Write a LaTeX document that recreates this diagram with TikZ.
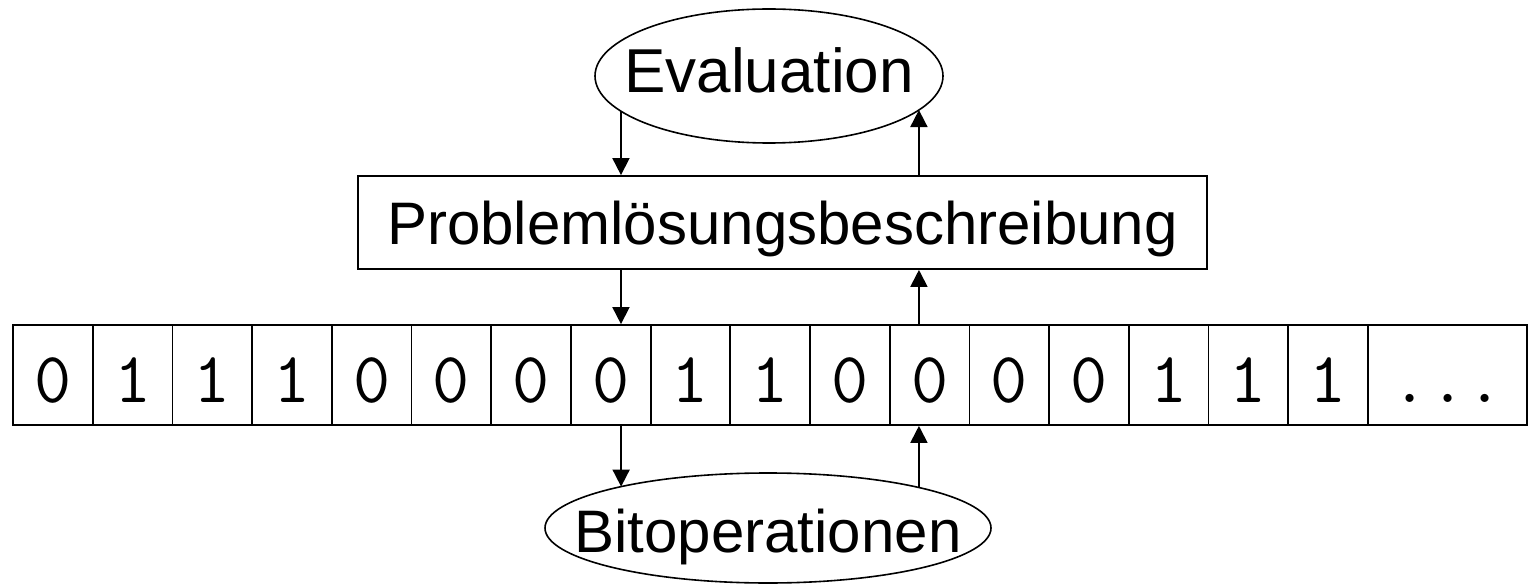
\documentclass[tikz,border=0pt]{standalone}
\usepackage{fontspec}
\setmainfont{Liberation Sans}
\usetikzlibrary{arrows.meta}

\begin{document}
\begin{tikzpicture}[
  x=1pt, y=-1pt,
  bit/.style={rectangle, draw, line width=1.8pt, inner sep=0pt,
    minimum width=79.7pt, minimum height=100pt,
    font=\ttfamily\fontsize{72pt}{76pt}\selectfont, text height=54pt, text depth=0pt},
  phase/.style={inner sep=0pt, font=\fontsize{60pt}{66pt}\selectfont, text depth=0pt},
  rim/.style={line width=1.6pt},
  coding/.style={rectangle, draw, line width=1.8pt, inner sep=0pt,
    minimum width=849pt, minimum height=93pt,
    font=\fontsize{60pt}{66pt}\selectfont, text height=45pt, text depth=0pt},
  flow/.style={-{Triangle[length=17pt,width=17pt]}, line width=1.8pt}
]
\useasboundingbox (0,0) rectangle (1528,585);

% the chromosome as a row of bit cells
\foreach \b [count=\i from 0] in {0,1,1,1,0,0,0,0,1,1,0,0,0,0,1,1,1}
  \node [bit] (c\i) at ({13+(\i+0.5)*79.7}, 375) {\b};
\node [bit, minimum width=159.4pt] (c17) at ({13+18*79.7}, 375) {...};

\node [coding] (prob) at (782.5, 222.5) {Problemlösungsbeschreibung};

% the two phases, text with an ellipse drawn round it
\node [phase, font=\fontsize{62pt}{68pt}\selectfont, text height=34pt] (eval) at (769, 76) {Evaluation};
\draw [rim] (eval) ellipse [x radius=174, y radius=67];
\node [phase, text height=48pt] (ops) at (768, 528) {Bitoperationen};
\draw [rim] (ops) ellipse [x radius=223, y radius=55];

% where the arrows meet the ellipses
\path (eval) ++(148.3:174 and 67) coordinate (evalL);
\path (eval) ++(30.5:174 and 67) coordinate (evalR);
\path (ops) ++(228.8:223 and 55) coordinate (opsL);
\path (ops) ++(312.6:223 and 55) coordinate (opsR);

\draw [flow] (evalL) -- (evalL |- prob.north);
\draw [flow] (evalL |- prob.south) -- (evalL |- c7.north);
\draw [flow] (opsL |- c7.south) -- (opsL);

\draw [flow] (opsR) -- (opsR |- c11.south);
\draw [flow] (opsR |- c11.north) -- (opsR |- prob.south);
\draw [flow] (evalR |- prob.north) -- (evalR);
\end{tikzpicture}
\end{document}
